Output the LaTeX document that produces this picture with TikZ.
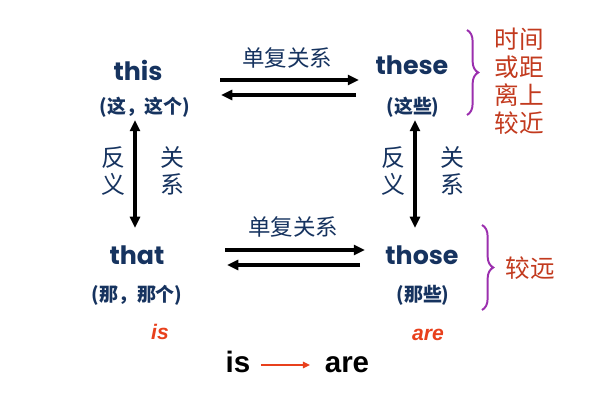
\documentclass[tikz,border=0pt]{standalone}
\usepackage{fontspec}
\setmainfont{Liberation Sans}
\newfontfamily\cjk{Noto Sans CJK SC}
\newfontfamily\wordfont{Poppins}
\usetikzlibrary{arrows.meta,decorations.pathreplacing}
\definecolor{navy}{HTML}{16335F}
\definecolor{brick}{HTML}{C23A1E}
\definecolor{verbred}{HTML}{E8401C}
\definecolor{bracepurple}{HTML}{9B2FAE}
\tikzset{
word/.style={text=navy,font=\wordfont\bfseries\fontsize{18}{18}\selectfont},
gloss/.style={text=navy,font=\cjk\bfseries\fontsize{13.5}{13.5}\selectfont},
rel/.style={text=navy,font=\cjk\fontsize{16}{16}\selectfont},
side/.style={text=navy,font=\cjk\fontsize{17}{19}\selectfont,align=center},
note/.style={text=brick,font=\cjk\fontsize{17.5}{20}\selectfont,align=center},
verb/.style={text=verbred,font=\bfseries\itshape\fontsize{15}{15}\selectfont},
big/.style={font=\bfseries\fontsize{21}{21}\selectfont,anchor=base},
arr/.style={line width=2.4pt,-{Triangle[length=8pt,width=7pt]}},
dual/.style={line width=2.4pt,{Triangle[length=8pt,width=7pt]}-{Triangle[length=8pt,width=7pt]}},
curly/.style={bracepurple,line width=1.4pt,decorate,decoration={brace,amplitude=8pt}}
}
\begin{document}
\begin{tikzpicture}[x=0.025cm,y=-0.025cm]
\useasboundingbox (0,0) rectangle (600,400);
% the four words
\node[word] (this) at (138,70) {this};
\node[gloss] (thisgl) at (145,107) {(这，这个)};
\node[word] (these) at (412,65) {these};
\node[gloss] (thesegl) at (413,107) {(这些)};
\node[word] (that) at (137,255) {that};
\node[gloss] (thatgl) at (137,295) {(那，那个)};
\node[word] (those) at (422,255) {those};
\node[gloss] (thosegl) at (423,295) {(那些)};
% singular / plural
\node[rel] (reltop) at (287,58) {单复关系};
\node[rel] (relbot) at (293,227) {单复关系};
\coordinate (ta) at (220,80); \coordinate (tb) at (359,80);
\coordinate (tc) at (356,95); \coordinate (td) at (221,95);
\coordinate (ba) at (225,250); \coordinate (bb) at (365,250);
\coordinate (bc) at (360,265); \coordinate (bd) at (227,265);
\draw[arr] (ta)--(tb);
\draw[arr] (tc)--(td);
\draw[arr] (ba)--(bb);
\draw[arr] (bc)--(bd);
% opposites
\node[side] (oppl) at (113,171) {反\\义};
\node[side] (rell) at (172,171) {关\\系};
\node[side] (oppr) at (393,171) {反\\义};
\node[side] (relr) at (452,171) {关\\系};
\coordinate (la) at (135,120); \coordinate (lb) at (135,228);
\coordinate (ra) at (415,120); \coordinate (rb) at (415,228);
\draw[dual] (la)--(lb);
\draw[dual] (ra)--(rb);
% near / far
\draw[curly] (467,30)--(467,115);
\node[note] (nearnote) at (519,81) {时间\\或距\\离上\\较近};
\draw[curly] (482,225)--(482,310);
\node[note] (farnote) at (530,268) {较远};
% verbs
\node[verb] (isv) at (160,332) {is};
\node[verb] (arev) at (428,335) {are};
\node[big] (isw) at (238,372) {is};
\node[big] (arew) at (347,372) {are};
\draw[verbred,line width=1.5pt,-{Triangle[length=5pt,width=4.5pt]}] ([xshift=4pt,yshift=5pt]isw.base east) -- ([xshift=-7pt,yshift=5pt]arew.base west);
\end{tikzpicture}
\end{document}
